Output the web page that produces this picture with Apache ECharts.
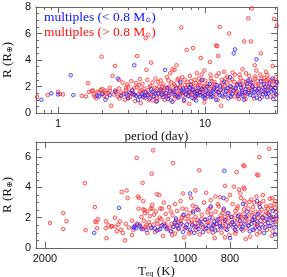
<!DOCTYPE html>
<html><head><meta charset="utf-8">
<script src="https://cdn.jsdelivr.net/npm/echarts@6/dist/echarts.min.js"></script>
<style>html,body{margin:0;padding:0;background:#fff}#c{width:287px;height:277px}</style>
</head><body><div id="c"></div>
<script>
// ---------- DATA ----------
// Top panel: [period (day), radius (R_earth)]
var topRed = [[0.72,1.2],[0.85,1.36],[1.0,1.6],[1.03,1.45],[1.08,1.4],
[1.45,1.3],[1.55,1.25],[1.6,2.25],[1.62,1.6],[1.7,1.65],[1.72,1.7],[1.75,1.4],[1.78,1.25],[1.82,1.1],[1.85,1.6],[1.9,1.55],[1.95,1.75],[1.98,4.25],[2.0,1.8],[2.02,1.45],[2.05,1.3],[2.1,1.7],[2.15,1.2],[2.2,1.5],[2.25,1.9],[2.3,0.55],[2.35,2.8],[2.4,1.4],[2.44,3.55],[2.5,1.6],[2.55,1.25],[2.6,1.85],[2.62,1.1],[2.7,1.55],[2.75,2.3],[2.8,1.45],[2.85,1.0],[2.9,1.7],[2.95,1.3],[3.0,2.0],[3.05,1.6],[3.1,1.2],[3.15,2.4],[3.2,1.75],[3.25,1.5],[3.3,1.9],[3.35,0.9],[3.45,4.3],[3.5,1.4],[3.55,2.1],[3.6,1.65],[3.65,0.75],[3.7,1.3],[3.75,2.2],[3.8,1.55],[3.85,1.85],[3.95,5.65],[3.9,1.15],[4.0,3.25],[4.05,2.5],[4.1,1.7],[4.15,1.0],[4.2,1.95],[4.3,3.8],[4.3,1.4],[4.4,2.3],[4.45,1.25],[4.5,1.6],[4.6,2.6],[4.65,0.85],[4.7,1.8],[4.8,1.5],[4.85,2.0],[4.9,1.2],[5.0,2.45],[5.05,1.65],[5.1,1.35],[5.2,2.15],[5.3,1.0],[5.35,1.85],[5.45,1.5],[5.5,2.7],[5.6,1.3],[5.7,2.0],[5.75,1.6],[5.85,0.95],[5.9,2.3],[6.0,3.3],[6.05,1.75],[6.1,1.4],[6.2,3.25],[6.25,2.05],[6.4,3.6],[6.4,1.55],[6.5,2.5],[6.6,1.15],[6.7,1.9],[6.8,2.25],[6.9,6.45],[6.9,1.45],[7.0,2.7],[7.1,1.7],[7.2,0.9],[7.3,2.1],[7.5,4.75],[7.5,1.6],[7.6,2.35],[7.7,1.25],[7.8,1.95],[7.9,2.8],[8.0,1.5],[8.1,2.15],[8.3,4.9],[8.3,1.8],[8.4,1.05],[8.5,2.5],[8.7,1.65],[8.8,3.0],[8.9,2.0],[9.0,1.35],[9.2,2.3],[9.35,4.15],[9.4,1.75],[9.5,2.9],[9.6,1.5],[9.8,2.05],[9.9,0.8],[10.0,2.45],[10.2,1.6],[10.4,2.2],[10.6,1.9],[10.8,3.85],[10.9,1.4],[11.0,2.6],[11.2,2.0],[11.4,1.25],[11.6,2.35],[11.8,1.75],[11.9,5.1],[12.1,5.05],[12.0,2.8],[12.3,4.3],[12.4,1.55],[12.6,6.5],[12.7,2.1],[12.9,0.55],[13.0,2.5],[13.3,1.85],[13.5,3.1],[13.7,1.4],[14.0,2.3],[14.2,2.75],[14.6,6.0],[14.5,1.65],[14.8,2.05],[15.0,1.2],[15.3,2.55],[15.6,1.9],[16.0,2.9],[16.3,1.5],[16.6,2.2],[17.0,1.05],[17.4,2.65],[17.8,1.75],[18.2,2.4],[18.5,5.4],[18.6,1.3],[19.0,3.0],[19.4,2.0],[19.7,7.15],[19.8,1.6],[20.2,2.5],[20.5,5.4],[20.8,7.9],[20.7,1.85],[21.2,2.3],[21.8,3.6],[21.6,1.1],[22.0,2.75],[22.6,1.7],[23.0,2.15],[23.5,1.4],[24.0,4.5],[24.2,2.6],[24.8,1.9],[25.4,2.35],[26.0,1.55],[26.6,2.85],[27.2,2.0],[27.8,1.25],[28.4,2.5],[28.9,3.55],[29.0,1.75],[29.5,7.1],[29.8,2.2],[30.4,2.7],[30.8,6.6],[30.5,1.45],
[2.1,1.55],[2.45,1.7],[2.9,1.9],[3.3,1.35],[3.9,1.6],[4.2,1.45],[4.7,1.15],[5.2,1.75],[5.6,1.9],[6.3,1.3],[6.8,1.6],[7.4,1.9],[8.2,1.4],[8.9,1.65],[9.7,1.95],[10.5,1.3],[11.5,1.95],[12.5,1.6],[13.6,2.0],[14.9,1.55],[16.2,1.8],[17.6,2.1],[19.2,1.45],[21.0,1.95],[22.8,2.4],[25.0,1.6],[27.5,2.3],[3.6,2.55],[4.8,2.35],[6.6,2.6],[9.1,2.6],[11.1,2.4],[13.8,2.6],[17.2,2.9],[20.0,2.8],[23.8,2.9],[26.3,2.45],[2.6,2.5],[5.8,3.0],[15.4,3.05],[8.6,1.2],[10.1,1.1],[12.2,1.0],[16.8,1.35],[18.9,1.05],[24.5,1.2],[3.0,1.1],[4.4,0.95],[6.2,1.05],[7.8,0.7],
[3.2,1.45],[3.4,2.25],[3.7,1.75],[4.0,1.35],[4.25,2.05],[4.55,1.9],[4.9,1.7],[5.1,2.0],[5.25,1.45],[5.5,1.2],[5.65,2.45],[5.95,1.65],[6.15,2.2],[6.35,1.85],[6.55,1.45],[6.75,2.0],[7.05,1.3],[7.25,2.5],[7.45,1.45],[7.65,2.1],[7.85,1.55],[8.05,2.4],[8.25,1.95],[8.45,1.55],[8.65,2.25],[8.85,1.3],[9.05,2.1],[9.25,1.6],[9.45,2.45],[9.65,1.8],[9.85,1.4],[10.3,2.0],[10.7,1.55],[11.3,1.7],[11.7,2.15],[12.8,1.75],[13.2,2.25],[14.3,1.85],[15.2,1.75],[15.8,2.35],[16.5,1.6],[17.1,2.3],[17.9,1.45],[18.4,2.0],[19.6,1.75],[20.4,2.15],[21.4,1.6],[22.2,2.05],[23.2,1.8],[24.0,2.1],[25.8,2.0],[26.8,1.7],[28.0,1.95],[29.3,2.4],[30.2,1.9],[30.9,2.35],[2.25,1.65],[2.65,1.35],[2.95,2.15],[3.45,1.95],[11.9,1.4],[13.4,1.2],[14.7,2.45],[16.0,1.25],[19.0,2.35],[21.8,2.6],[25.2,2.65],[27.0,2.55],[29.6,1.3],[10.9,2.9],[12.4,3.0],[9.9,3.2],[18.0,3.3],[22.4,3.2],[26.0,3.1]];
var topBlue = [[0.77,1.0],[0.9,1.48],[1.0,1.4],[1.22,2.85],[1.27,1.35],[1.85,1.3],[1.9,1.25],[2.0,1.45],[2.1,1.0],[2.25,1.35],[2.45,1.6],[2.55,2.6],[2.7,1.3],[2.9,1.45],[3.0,1.15],[3.1,1.5],[3.3,3.6],[3.4,1.3],[3.5,1.0],[3.6,1.25],[3.7,1.45],[3.8,1.2],[3.95,1.55],[4.1,1.35],[4.2,1.1],[4.4,1.6],[4.5,1.25],[4.7,0.9],[4.8,1.45],[5.0,1.75],[5.2,1.2],[5.35,3.25],[5.4,1.5],[5.6,1.05],[5.8,1.65],[6.0,0.85],[6.2,1.4],[6.4,1.9],[6.6,1.2],[6.8,2.35],[7.0,1.55],[7.2,1.0],[7.5,1.75],[7.7,1.3],[8.0,2.1],[8.2,1.15],[8.5,1.6],[8.7,0.95],[9.0,1.9],[9.3,1.35],[9.6,2.5],[9.9,1.1],[10.2,1.7],[10.5,1.45],[10.8,2.2],[11.2,1.25],[11.5,1.85],[11.9,1.0],[12.3,1.55],[12.7,2.0],[13.1,1.3],[13.5,2.35],[14.0,1.65],[14.4,1.1],[14.8,2.7],[15.3,1.45],[15.7,4.5],[16.0,4.8],[16.2,1.9],[16.8,1.25],[17.3,2.15],[17.9,1.6],[18.4,1.0],[19.0,1.8],[19.6,2.45],[20.3,1.35],[21.0,2.0],[21.7,1.55],[22.4,4.05],[22.5,1.15],[23.2,1.85],[24.0,2.4],[24.8,1.4],[25.6,1.95],[26.5,1.2],[27.4,2.2],[28.3,1.6],[29.2,1.05],[30.0,1.9],[30.7,2.3],[4.3,1.8],[6.9,1.7],[8.8,1.45],[11.0,1.6],[13.8,1.4],[18.0,1.3],[20.8,1.7],[26.0,1.45],[3.2,1.7],[5.7,1.3],[7.9,1.9],[9.7,1.25],[12.0,2.1],[15.0,2.0],[19.3,2.2],[23.6,1.05],[28.8,2.6],
[3.3,1.4],[3.9,1.3],[4.6,1.5],[5.1,1.4],[5.5,1.9],[6.1,1.6],[6.5,1.3],[7.1,1.85],[7.4,1.4],[7.8,1.6],[8.3,1.75],[8.6,1.3],[9.2,1.55],[9.5,1.8],[10.0,1.35],[10.4,2.0],[10.9,1.2],[11.4,1.55],[12.1,1.8],[12.6,1.35],[13.3,1.7],[14.2,1.9],[14.9,1.3],[15.6,1.7],[16.5,2.1],[17.1,1.45],[17.6,1.9],[18.7,1.55],[19.8,1.5],[20.6,2.3],[21.3,1.3],[22.0,1.8],[23.0,1.5],[24.4,1.7],[25.2,2.2],[26.2,1.7],[27.0,1.5],[28.0,1.9],[29.5,1.7],[30.4,1.4]];

// Bottom panel: [T_eq (K), radius (R_earth)]
var botRed = [[1950,1.65],[1827,2.3],[1827,1.25],[1796,1.78],[1641,4.28],[1635,1.18],[1562,2.7],[1558,1.75],[1550,1.7],[1540,1.9],[1545,1.3],[1474,0.65],[1478,1.75],[1442,1.4],[1435,1.45],[1414,2.0],[1368,3.7],[1380,1.75],[1372,1.2],[1335,3.8],[1328,3.3],[1270,5.95],[1262,3.4],[1255,3.3],[1233,4.3],[1229,3.1],[1258,2.6],[1228,2.55],[1222,2.5],[1218,2.3],[1170,6.45],[1179,4.9],[1060,5.6],[932,5.13],[749,5.45],[745,5.4],[692,6.0],[659,6.55],[700,4.85],[696,4.8],[774,5.0],[785,4.05],[765,3.85],[748,4.0],[745,3.9],[820,4.1],[1150,3.55],[1135,3.5],[1185,2.6],[1175,2.6],
[1480,1.3],[1460,1.5],[1410,1.4],[1400,1.1],[1390,1.55],[1360,1.0],[1345,0.5],[1340,1.6],[1320,1.35],[1300,1.8],[1300,0.85],[1290,1.2],[1280,1.45],[1270,1.6],[1250,1.55],[1240,1.35],[1230,1.25],[1225,1.8],[1210,1.5],[1205,1.0],
[1195,1.7],[1190,2.1],[1182,1.3],[1176,2.85],[1168,1.55],[1160,1.05],[1155,2.4],[1148,1.8],[1140,1.2],[1133,2.0],[1126,1.45],[1120,2.6],[1114,0.8],[1108,1.65],[1100,2.25],[1094,1.35],[1088,1.9],[1082,2.7],[1075,1.1],[1069,1.6],[1063,2.15],[1057,1.4],[1050,0.95],[1045,1.85],[1040,2.45],[1034,1.25],[1028,1.7],[1022,3.1],[1016,2.0],[1010,1.5],[1004,0.7],[998,1.95],[993,2.55],[988,1.3],[982,1.75],[977,2.3],[971,1.05],[966,1.6],[961,2.8],[955,1.4],[950,2.05],[945,1.2],[940,1.85],[935,2.5],[930,0.9],[925,1.65],[920,2.2],[915,1.35],[910,3.0],[905,1.9],[900,1.5],[895,2.35],[890,1.1],[886,1.75],[881,2.65],[877,1.3],[872,2.0],[868,1.55],[863,0.65],[859,2.4],[855,1.85],[850,1.2],[846,2.75],[842,1.65],[838,2.15],[834,1.0],[830,1.45],[826,2.5],[822,1.9],[818,1.25],[814,3.2],[810,1.7],[806,2.3],[802,0.85],[798,1.55],[794,2.05],[790,2.9],[787,1.35],[783,1.8],[779,2.45],[776,1.1],[772,2.6],[768,1.6],[765,2.2],[761,1.4],[758,3.3],[754,1.95],[751,1.15],[747,2.55],[744,1.75],[740,2.85],[737,1.3],[734,2.1],[730,1.5],[727,3.05],[724,0.75],[721,2.35],[718,1.85],[714,2.7],[711,1.2],[708,1.65],[705,2.4],[702,3.4],[699,1.45],[696,2.0],[693,2.9],[690,1.05],[687,1.8],[684,2.55],[681,1.35],[678,3.1],[675,2.15],[672,1.6],[669,2.75],[666,1.2],[663,2.3],[660,1.9],[657,3.25],[654,1.45],[651,2.6],[648,1.1],[645,2.05],[642,2.9],[639,1.7],[636,2.4],[1215,1.4],[1205,2.4],[1012,2.6],[1240,2.05],[1110,3.0],[970,3.3],[880,3.15],[840,3.35],[800,3.5],[760,3.6],[720,3.2],[680,3.5],[650,3.3],[945,2.7],[850,2.9],[670,2.4],[1065,0.85],[980,0.95],[870,1.0],[820,0.7],[780,0.95],[740,0.6],[700,0.9],[650,0.8],
[1190,1.5],[1165,2.2],[1145,1.6],[1125,1.9],[1102,1.55],[1085,1.35],[1072,2.4],[1053,1.65],[1038,1.45],[1020,1.8],[1000,1.3],[985,2.1],[968,1.85],[952,1.65],[937,1.45],[922,1.9],[907,1.25],[893,1.7],[878,2.25],[865,1.45],[852,1.6],[840,1.95],[828,1.75],[816,1.5],[804,2.0],[792,1.7],[781,2.15],[770,1.9],[759,1.6],[749,2.25],[738,1.95],[728,1.7],[718,2.15],[709,1.9],[700,1.6],[691,2.35],[682,2.05],[673,1.8],[664,2.6],[656,2.15],[647,1.85],[640,2.65],[635,1.95],[1010,2.15],[960,2.45],[890,2.55],[830,2.3],[770,2.75],[730,2.6],[690,2.95],[655,2.8],[1130,2.6],[1050,2.9],[1010,3.6],[950,3.8],[900,3.65],[860,3.4],[745,3.1],[710,3.0],[640,3.1],[700,2.2],[760,2.05],[820,2.05]];
var botBlue = [[1567,1.0],[1386,2.65],[1290,1.35],[1285,1.4],[1275,1.3],[1265,1.55],[1250,1.45],[1240,1.25],[823,5.1],[975,3.6],[826,3.3],[700,3.1],[1180,1.35],[1150,1.15],[1120,1.5],[1095,1.25],[1070,1.1],[1050,1.7],[1030,1.3],[1010,1.05],[990,1.55],[975,1.2],[960,2.35],[945,1.4],[930,1.75],[915,1.05],[900,1.3],[885,2.0],[870,1.5],[860,1.15],[848,1.9],[835,1.35],[825,2.6],[812,1.2],[800,0.65],[790,1.7],[778,1.4],[768,2.1],[756,1.25],[745,1.6],[735,2.4],[725,1.1],[715,1.85],[705,1.35],[696,2.25],[686,1.55],[676,1.0],[667,1.9],[658,1.45],[648,2.45],[640,0.9],[1005,2.2],[940,2.55],[880,2.75],[810,2.3],[750,2.9],[690,2.7],[660,2.2],[1045,1.95],[955,1.0],[865,1.75],[785,1.55],[715,1.2],[645,1.7],
[1210,1.2],[1160,1.3],[1130,1.25],[1105,1.45],[1060,1.4],[1040,1.5],[1020,1.6],[995,1.35],[965,1.5],[935,1.25],[920,1.55],[905,1.85],[890,1.45],[875,1.25],[855,1.6],[840,1.45],[820,1.8],[805,1.45],[795,2.05],[780,1.2],[762,1.8],[752,1.4],[740,2.05],[730,1.45],[720,1.6],[710,2.05],[700,1.75],[692,1.3],[680,2.0],[672,1.35],[662,1.65],[652,2.0],[642,1.35],[636,2.1]];

// Tick values
var periodRange = [0.708, 30.9];
var periodMajor = [1, 10];
var periodMinor = [0.8, 0.9, 2, 3, 4, 5, 6, 7, 8, 9, 20, 30];
var teqRange = [634, 2090];
var teqMajor = [2000, 1000, 800];
var teqMinor = [900, 700];
var radiusTopMajor = [0, 2, 4, 6, 8];
var radiusBotMajor = [0, 2, 4, 6];
var radiusTopMinor = [0.5,1,1.5,2.5,3,3.5,4.5,5,5.5,6.5,7,7.5];
var radiusBotMinor = [0.5,1,1.5,2.5,3,3.5,4.5,5,5.5,6.5];

// ---------- CHART ----------
var L = Math.log10;
var AX = '#666';
var labelFont = {color:'#111', fontFamily:'Liberation Sans', fontSize:11};
var titleFont = {color:'#111', fontFamily:'Liberation Serif', fontSize:13};

function xAxes(grid, min, max, major, minor, inverse, name, nameRich) {
  var base = {type:'value', gridIndex:grid, min:L(min), max:L(max), inverse:inverse, splitLine:{show:false}};
  var tk = function(vals, len, pos, showLine, label) {
    return Object.assign({}, base, {
      position: pos,
      axisLine:{show:showLine, onZero:false, lineStyle:{color:AX, width:1}},
      axisTick:{show:true, inside:true, length:len, customValues:vals.map(L), lineStyle:{color:AX, width:1}},
      axisLabel: label ? Object.assign({show:true, margin:5, customValues:vals.map(L),
        formatter:function(v){return String(Math.round(Math.pow(10,v)));}}, labelFont) : {show:false}
    });
  };
  var main = tk(major, 6, 'bottom', true, true);
  main.name = name; main.nameLocation = 'middle'; main.nameGap = nameRich.gap;
  main.nameTextStyle = Object.assign({}, titleFont, {rich: nameRich.rich});
  return [main, tk(minor, 3, 'bottom', false, false), tk(major, 6, 'top', true, false), tk(minor, 3, 'top', false, false)];
}
function yAxes(grid, max, major, minor) {
  var base = {type:'value', gridIndex:grid, min:0, max:max, splitLine:{show:false}};
  var tk = function(vals, len, pos, showLine, label) {
    return Object.assign({}, base, {
      position: pos,
      axisLine:{show:showLine, onZero:false, lineStyle:{color:AX, width:1}},
      axisTick:{show:true, inside:true, length:len, customValues:vals, lineStyle:{color:AX, width:1}},
      axisLabel: label ? Object.assign({show:true, margin:5, customValues:vals}, labelFont) : {show:false}
    });
  };
  var main = tk(major, 6, 'left', true, true);
  main.name = '{a|R (R}{s|⊕}{a|)}';
  main.nameLocation = 'middle'; main.nameGap = 21; main.nameRotate = 90;
  main.nameTextStyle = Object.assign({}, titleFont, {rich:{
    a:{fontFamily:'Liberation Serif', fontSize:13, color:'#111'},
    s:{fontFamily:'DejaVu Sans', fontSize:8, color:'#111', padding:[5,0,0,0]}}});
  return [main, tk(minor, 3, 'left', false, false), tk(major, 6, 'right', true, false), tk(minor, 3, 'right', false, false)];
}

var xs = xAxes(0, periodRange[0], periodRange[1], periodMajor, periodMinor, false,
  'period (day)', {gap:15, rich:{}})
 .concat(xAxes(1, teqRange[0], teqRange[1], teqMajor, teqMinor, true,
  '{a|T}{s|eq}{a| (K)}', {gap:14, rich:{
    a:{fontFamily:'Liberation Serif', fontSize:13, color:'#111'},
    s:{fontFamily:'Liberation Serif', fontSize:8, color:'#111', padding:[6,0,0,0]}}}));
var ys = yAxes(0, 8, radiusTopMajor, radiusTopMinor).concat(yAxes(1, 7, radiusBotMajor, radiusBotMinor));

function sc(data, xi, yi, color, fill) {
  return {type:'scatter', xAxisIndex:xi, yAxisIndex:yi, symbol:'circle', symbolSize:3.6, clip:true,
    data: data.map(function(d){return [L(d[0]), d[1]];}),
    itemStyle:{color:fill, borderColor:color, borderWidth:1}, emphasis:{disabled:true}, silent:true, animation:false};
}

var legendRich = {
  n:{fontFamily:'Liberation Serif', fontSize:13.5},
  s:{fontFamily:'DejaVu Sans', fontSize:7, padding:[6,0,0,0]}
};
var chart = echarts.init(document.getElementById('c'), null, {renderer:'canvas'});
chart.setOption({
  animation:false,
  backgroundColor:'#fff',
  grid:[
    {left:36, top:7, width:241, height:106, outerBoundsMode:'none', containLabel:false},
    {left:36, top:142, width:241, height:106, outerBoundsMode:'none', containLabel:false}
  ],
  xAxis: xs,
  yAxis: ys,
  series:[
    sc(topRed, 0, 0, '#ff2a2a', 'rgba(255,80,80,0.15)'),
    sc(topBlue, 0, 0, '#2a2aff', 'rgba(80,80,255,0.15)'),
    sc(botRed, 4, 4, '#ff2a2a', 'rgba(255,80,80,0.15)'),
    sc(botBlue, 4, 4, '#2a2aff', 'rgba(80,80,255,0.15)')
  ],
  graphic:[
    {type:'text', left:44, top:10, silent:true, style:{text:'{n|multiples (< 0.8 M}{s|⊙}{n|)}', fill:'#1010ff', rich:legendRich}},
    {type:'text', left:44, top:25, silent:true, style:{text:'{n|multiples (> 0.8 M}{s|⊙}{n|)}', fill:'#ff1010', rich:legendRich}}
  ]
});
</script></body></html>
